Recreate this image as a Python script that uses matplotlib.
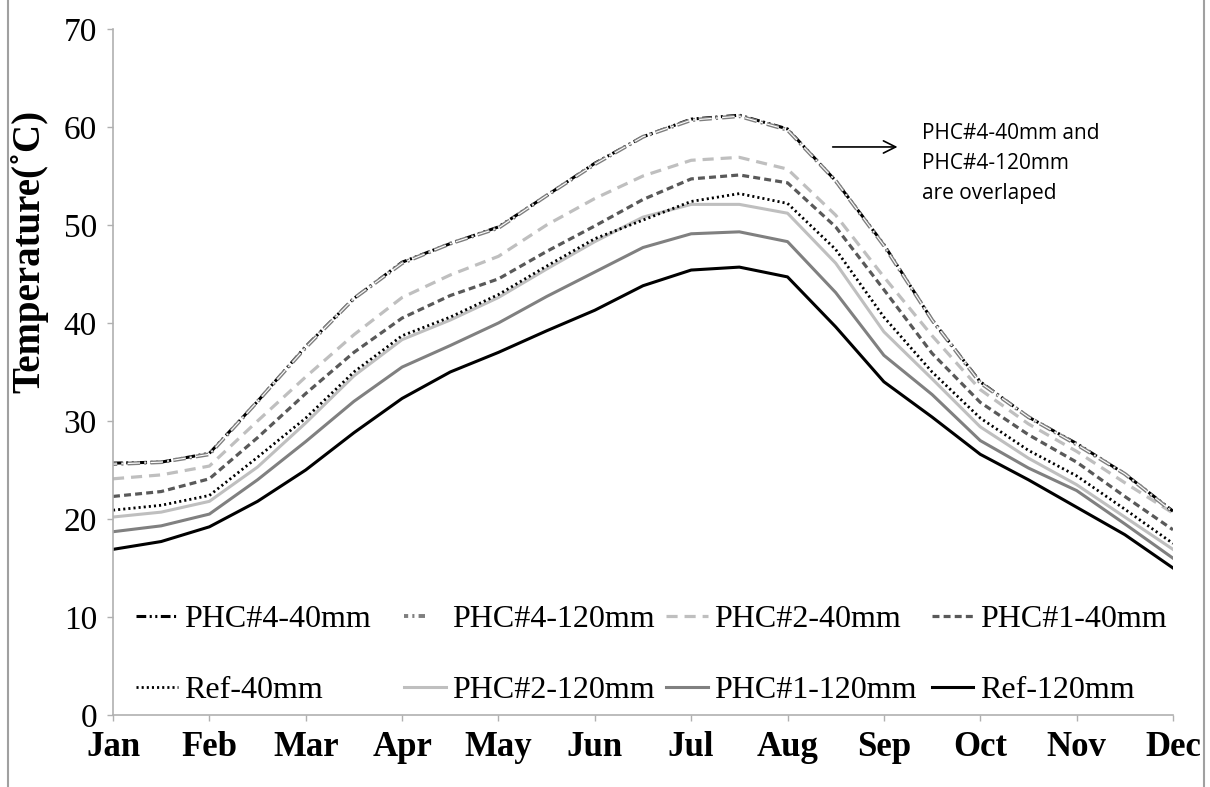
import matplotlib
matplotlib.use('Agg')
import matplotlib.pyplot as plt
from matplotlib.legend import Legend
from matplotlib.legend_handler import HandlerTuple
import numpy as np

months = ['Jan', 'Feb', 'Mar', 'Apr', 'May', 'Jun',
          'Jul', 'Aug', 'Sep', 'Oct', 'Nov', 'Dec']

# values read at each month and half-month (Jan, mid Jan, Feb, ..., Dec)
phc4_40 = [25.7, 25.8, 26.7, 32.0, 37.6, 42.5, 46.2, 48.1, 49.8, 53.0, 56.3, 59.0,
           60.8, 61.2, 59.8, 54.5, 48.0, 40.3, 34.0, 30.4, 27.7, 24.6, 20.8]
phc4_120 = [25.6, 25.8, 26.6, 32.0, 37.5, 42.5, 46.1, 48.1, 49.7, 53.0, 56.2, 59.0,
            60.7, 61.1, 59.7, 54.5, 47.9, 40.3, 33.9, 30.4, 27.6, 24.6, 20.7]
phc2_40 = [24.1, 24.5, 25.4, 30.0, 34.5, 38.8, 42.6, 44.9, 46.8, 50.0, 52.7, 55.0,
           56.6, 56.9, 55.7, 51.0, 44.7, 38.7, 33.2, 29.7, 26.9, 23.7, 20.6]
phc1_40 = [22.3, 22.8, 24.1, 28.3, 32.8, 37.0, 40.5, 42.8, 44.5, 47.3, 49.9, 52.6,
           54.7, 55.1, 54.3, 49.8, 43.4, 36.9, 31.9, 28.6, 25.8, 22.3, 18.9]
ref_40 = [20.9, 21.4, 22.4, 26.3, 30.3, 35.0, 38.7, 40.6, 42.9, 45.8, 48.6, 50.5,
          52.4, 53.2, 52.2, 47.5, 40.6, 35.0, 30.3, 27.0, 24.4, 21.0, 17.5]
phc2_120 = [20.2, 20.7, 21.8, 25.3, 29.8, 34.6, 38.3, 40.3, 42.6, 45.5, 48.3, 50.8,
            52.1, 52.1, 51.2, 46.1, 39.1, 34.3, 29.4, 26.2, 23.5, 20.2, 16.9]
phc1_120 = [18.7, 19.3, 20.5, 24.0, 27.9, 32.0, 35.5, 37.7, 40.0, 42.7, 45.2, 47.7,
            49.1, 49.3, 48.3, 43.1, 36.7, 32.7, 28.0, 25.2, 22.9, 19.5, 16.0]
ref_120 = [16.9, 17.7, 19.2, 21.8, 25.0, 28.8, 32.3, 35.0, 37.0, 39.2, 41.3, 43.8,
           45.4, 45.7, 44.7, 39.6, 34.0, 30.4, 26.6, 24.0, 21.2, 18.4, 15.0]

plt.rcParams['font.family'] = ['Liberation Serif', 'DejaVu Serif']
plt.rcParams['lines.scale_dashes'] = False

fig = plt.figure(figsize=(12.1, 7.87), dpi=100)
ax = fig.add_axes([0.0934, 0.0915, 0.876, 0.8717])
x = np.arange(len(phc4_40)) / 2

l_ref120, = ax.plot(x, ref_120, color='black', lw=2.2)
l_phc1_120, = ax.plot(x, phc1_120, color='#808080', lw=2.2)
l_phc2_120, = ax.plot(x, phc2_120, color='#bfbfbf', lw=2.2)
l_ref40, = ax.plot(x, ref_40, color='black', lw=2.0, ls=(0, (1.5, 2.2)))
l_phc1_40, = ax.plot(x, phc1_40, color='#595959', lw=2.3, ls=(0, (5, 3)))
l_phc2_40, = ax.plot(x, phc2_40, color='#bfbfbf', lw=2.3, ls=(0, (8, 5)))
l_phc4_40, = ax.plot(x, phc4_40, color='black', lw=2.2,
                     ls=(0, (7, 2.5, 1.5, 2.5, 1.5, 2.5)))
l_phc4_120o, = ax.plot(x, phc4_120, color='#7f7f7f', lw=2.8, ls=(6, (9, 3, 1.5, 3)))
l_phc4_120i, = ax.plot(x, phc4_120, color='white', lw=0.8, ls=(6, (9, 3, 1.5, 3)))

ax.set_xlim(0, 11)
ax.set_ylim(0, 70)
ax.set_xticks(range(12))
ax.set_xticklabels(months, fontweight='bold', fontsize=25)
ax.set_yticks(range(0, 71, 10))
ax.tick_params(axis='y', labelsize=24, pad=7)
ax.tick_params(axis='x', pad=7)
ax.tick_params(axis='both', direction='out', length=4.5, width=1, color='#b0b0b0')
for side in ['top', 'right']:
    ax.spines[side].set_visible(False)
for side in ['left', 'bottom']:
    ax.spines[side].set_color('#b0b0b0')
    ax.spines[side].set_linewidth(1.2)

ax.set_ylabel('Temperature(˚C)', fontweight='bold', fontsize=28)
ax.yaxis.set_label_coords(-0.061, 0.675)

# four one-column legends so the columns sit at equal spacing
columns = [
    ([l_phc4_40, l_ref40], ['PHC#4-40mm', 'Ref-40mm']),
    ([(l_phc4_120o, l_phc4_120i), l_phc2_120], ['PHC#4-120mm', 'PHC#2-120mm']),
    ([l_phc2_40, l_phc1_120], ['PHC#2-40mm', 'PHC#1-120mm']),
    ([l_phc1_40, l_ref120], ['PHC#1-40mm', 'Ref-120mm']),
]
col_x = [0.0217, 0.2745, 0.5217, 0.7726]
for (hs, ls_), cx in zip(columns, col_x):
    leg = Legend(ax, hs, ls_, loc='lower left', bbox_to_anchor=(cx, 0.015),
                 frameon=False, fontsize=23, handlelength=1.3, handletextpad=0.2,
                 labelspacing=1.3, borderpad=0, borderaxespad=0,
                 handler_map={tuple: HandlerTuple(ndivide=None)})
    ax.add_artist(leg)

ax.annotate('', xy=(8.17, 57.96), xytext=(7.44, 57.96),
            arrowprops=dict(arrowstyle='->', color='black', lw=1.2, mutation_scale=22))
ax.text(8.40, 56.3, 'PHC#4-40mm and\nPHC#4-120mm\nare overlaped', family='Open Sans',
        fontsize=15, va='center', ha='left', linespacing=1.55)

for xf in [8 / 1210, 1204 / 1210]:
    fig.add_artist(plt.Line2D([xf, xf], [0, 1], color='#a0a0a0', lw=1.5,
                              transform=fig.transFigure))

fig.savefig('out.png', dpi=100)
